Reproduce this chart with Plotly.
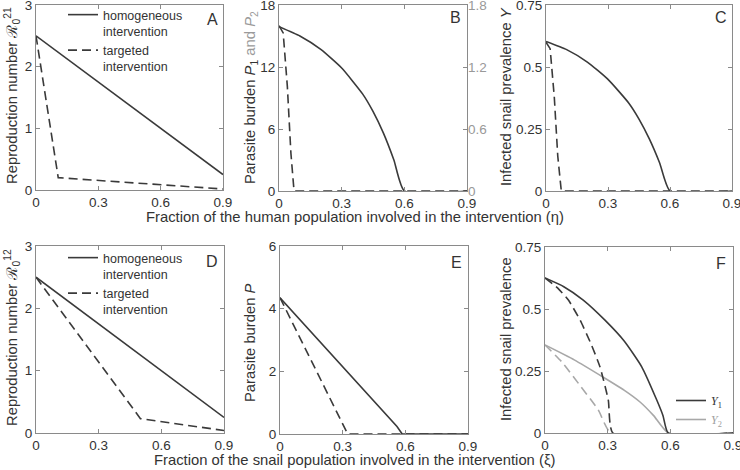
import plotly.graph_objects as go

W, H = 740, 470
def px(x): return x / W
def py(y): return 1 - y / H

# ---------------- data ----------------
# Panel A
etaA_hom = [0, 0.9]
RA_hom = [2.5, 0.25]
etaA_tar = [0, 0.107, 0.9]
RA_tar = [2.5, 0.2, 0.016]
# Panel B
etaB_hom = [0, 0.1, 0.2, 0.3, 0.4, 0.45, 0.5, 0.55, 0.6, 0.9]
PB_hom = [15.9, 15.0, 13.7, 11.9, 9.4, 7.7, 5.6, 3.0, 0, 0]
etaB_tar = [0, 0.02, 0.04, 0.057, 0.072, 0.9]
PB_tar = [16.0, 15.3, 10.1, 3.65, 0, 0]
# Panel C
etaC_hom = [0, 0.1, 0.2, 0.3, 0.4, 0.45, 0.5, 0.55, 0.6, 0.9]
YC_hom = [0.603, 0.57, 0.52, 0.45, 0.355, 0.29, 0.21, 0.113, 0, 0]
etaC_tar = [0, 0.02, 0.04, 0.057, 0.074, 0.9]
YC_tar = [0.6, 0.574, 0.38, 0.14, 0, 0]
# Panel D
xiD_hom = [0, 0.9]
RD_hom = [2.5, 0.25]
xiD_tar = [0, 0.5, 0.9]
RD_tar = [2.5, 0.23, 0.04]
# Panel E
xiE_hom = [0, 0.56, 0.585, 0.9]
PE_hom = [4.35, 0.24, 0, 0]
xiE_tar = [0, 0.324, 0.9]
PE_tar = [4.35, 0, 0]
# Panel F
xiF_Y1_hom = [0, 0.09, 0.183, 0.287, 0.38, 0.463, 0.535, 0.565, 0.59, 0.9]
YF_Y1_hom = [0.625, 0.59, 0.536, 0.455, 0.37, 0.267, 0.133, 0.07, 0, 0]
xiF_Y1_tar = [0, 0.06, 0.112, 0.168, 0.22, 0.263, 0.303, 0.325, 0.9]
YF_Y1_tar = [0.625, 0.585, 0.536, 0.455, 0.36, 0.267, 0.133, 0, 0]
xiF_Y2_hom = [0, 0.14, 0.279, 0.38, 0.455, 0.52, 0.59, 0.9]
YF_Y2_hom = [0.355, 0.295, 0.225, 0.172, 0.125, 0.07, 0, 0]
xiF_Y2_tar = [0, 0.08, 0.16, 0.255, 0.315, 0.9]
YF_Y2_tar = [0.355, 0.287, 0.2, 0.093, 0, 0]

x_ticks = [0, 0.3, 0.6, 0.9]
x_ticktext = ["0", "0.3", "0.6", "0.9"]
yA_ticks = [0, 1, 2, 3]
yB_ticks = [0, 6, 12, 18]
yB2_ticks = [0, 0.6, 1.2, 1.8]
yB2_ticktext = ["0", "0.6", "1.2", "1.8"]
yC_ticks = [0, 0.25, 0.5, 0.75]
yC_ticktext = ["0", "0.25", "0.5", "0.75"]
yE_ticks = [0, 2, 4, 6]

# ---------------- style ----------------
DARK = "#3a3a3a"
GREY = "#a8a8a8"
FRAME = "#8a8a8a"
TXT = "#333333"
FONT = "Liberation Sans, Arial, sans-serif"
DASH = "9px,5px"
LW = 1.6
TICKSIZE = 13.5
TITLESIZE = 14.8

fig = go.Figure()

def add(x, y, ax, color, dash, name=None, legend=None, show=False, shape="linear"):
    fig.add_trace(go.Scatter(
        x=x, y=y, xaxis="x" + ax[0], yaxis="y" + ax[1], mode="lines",
        line=dict(color=color, width=LW, dash=dash, shape=shape, smoothing=0.5),
        name=name, legend=legend, showlegend=show, hoverinfo="skip"))

# A
add(etaA_hom, RA_hom, ("", ""), DARK, "solid", "homogeneous<br>intervention", "legend", True)
add(etaA_tar, RA_tar, ("", ""), DARK, DASH, "targeted<br>intervention", "legend", True)
# B
add(etaB_hom, PB_hom, ("2", "2"), DARK, "solid", shape="spline")
add(etaB_tar, PB_tar, ("2", "2"), DARK, DASH)
fig.add_trace(go.Scatter(x=[None], y=[None], xaxis="x2", yaxis="y7", showlegend=False, hoverinfo="skip"))
# C
add(etaC_hom, YC_hom, ("3", "3"), DARK, "solid", shape="spline")
add(etaC_tar, YC_tar, ("3", "3"), DARK, DASH)
# D
add(xiD_hom, RD_hom, ("4", "4"), DARK, "solid", "homogeneous<br>intervention", "legend2", True)
add(xiD_tar, RD_tar, ("4", "4"), DARK, DASH, "targeted<br>intervention", "legend2", True)
# E
add(xiE_hom, PE_hom, ("5", "5"), DARK, "solid")
add(xiE_tar, PE_tar, ("5", "5"), DARK, DASH)
# F
add(xiF_Y2_tar, YF_Y2_tar, ("6", "6"), GREY, DASH, shape="spline")
add(xiF_Y2_hom, YF_Y2_hom, ("6", "6"), GREY, "solid", shape="spline")
add(xiF_Y1_tar, YF_Y1_tar, ("6", "6"), DARK, DASH, shape="spline")
add(xiF_Y1_hom, YF_Y1_hom, ("6", "6"), DARK, "solid", shape="spline")
# legend entries for F (order Y1, Y2)
fig.add_trace(go.Scatter(x=[None], y=[None], xaxis="x6", yaxis="y6", mode="lines",
                         line=dict(color=DARK, width=LW), name="<i>Y</i><sub>1</sub>",
                         legend="legend3", showlegend=True))
fig.add_trace(go.Scatter(x=[None], y=[None], xaxis="x6", yaxis="y6", mode="lines",
                         line=dict(color=GREY, width=LW),
                         name="<span style='color:#a0a0a0'><i>Y</i><sub>2</sub></span>",
                         legend="legend3", showlegend=True))

def xax(dom, anchor):
    return dict(domain=[px(dom[0]), px(dom[1])], anchor=anchor, range=[0, 0.9],
                tickvals=x_ticks, ticktext=x_ticktext, showline=True, linecolor=FRAME,
                linewidth=1, mirror="ticks", ticks="inside", ticklen=4, tickcolor=FRAME,
                showgrid=False, zeroline=False, automargin=False, ticklabeloverflow="allow",
                tickfont=dict(size=TICKSIZE, color=TXT, family=FONT), fixedrange=True)

def yax(dom, anchor, rng, vals, text=None, mirror="ticks"):
    d = dict(domain=[py(dom[1]), py(dom[0])], anchor=anchor, range=rng, tickvals=vals,
             showline=True, linecolor=FRAME, linewidth=1, mirror=mirror, ticks="inside",
             ticklen=4, tickcolor=FRAME, showgrid=False, zeroline=False, automargin=False,
             ticklabeloverflow="allow",
             tickfont=dict(size=TICKSIZE, color=TXT, family=FONT), fixedrange=True)
    if text:
        d["ticktext"] = text
    return d

# pixel boxes (left, right), (top, bottom)
A = ((36, 223), (5, 190))
B = ((279, 467), (5, 191))
C = ((546, 732), (5, 191))
D = ((36, 224), (246, 433))
E = ((280, 468), (246, 434))
F = ((545, 733), (247, 433))

leg_font = dict(size=12.5, color=TXT, family=FONT)
layout = dict(
    width=W, height=H, margin=dict(l=0, r=0, t=0, b=0, autoexpand=False),
    paper_bgcolor="white", plot_bgcolor="white",
    font=dict(family=FONT, color=TXT),
    xaxis=xax(A[0], "y"), yaxis=yax(A[1], "x", [0, 3], yA_ticks),
    xaxis2=xax(B[0], "y2"), yaxis2=yax(B[1], "x2", [0, 18], yB_ticks, mirror=True),
    xaxis3=xax(C[0], "y3"), yaxis3=yax(C[1], "x3", [0, 0.75], yC_ticks, yC_ticktext),
    xaxis4=xax(D[0], "y4"), yaxis4=yax(D[1], "x4", [0, 3], yA_ticks),
    xaxis5=xax(E[0], "y5"), yaxis5=yax(E[1], "x5", [0, 6], yE_ticks),
    xaxis6=xax(F[0], "y6"), yaxis6=yax(F[1], "x6", [0, 0.75], yC_ticks, yC_ticktext),
    yaxis7=dict(overlaying="y2", side="right", anchor="x2", range=[0, 1.8],
                tickvals=yB2_ticks, ticktext=yB2_ticktext, automargin=False,
                showline=False, ticks="inside", ticklen=4, tickcolor=FRAME,
                showgrid=False, zeroline=False, ticklabeloverflow="allow",
                tickfont=dict(size=TICKSIZE, color="#999999", family=FONT), fixedrange=True),
    legend=dict(x=px(63), y=py(0), xanchor="left", yanchor="top", bgcolor="rgba(0,0,0,0)",
                font=leg_font, valign="top", tracegroupgap=0, itemclick=False),
    legend2=dict(x=px(63), y=py(243), xanchor="left", yanchor="top", bgcolor="rgba(0,0,0,0)",
                 font=leg_font, valign="top", tracegroupgap=0, itemclick=False),
    legend3=dict(x=px(671), y=py(386), xanchor="left", yanchor="top", bgcolor="rgba(0,0,0,0)",
                 font=dict(size=12, color=TXT, family="Liberation Serif, Times New Roman, serif"),
                 tracegroupgap=0, itemclick=False),
    showlegend=True,
)
fig.update_layout(**layout)

ann = []
def text(x, y, s, size=TITLESIZE, angle=0, color=TXT, xanchor="center"):
    ann.append(dict(x=px(x), y=py(y), xref="paper", yref="paper", text=s, showarrow=False,
                    textangle=angle, xanchor=xanchor, yanchor="middle",
                    font=dict(size=size, color=color, family=FONT)))

# panel letters
for lab, (x, y) in zip("ABCDEF", [(212, 19), (455, 18), (721, 18), (212, 261), (456, 262), (721, 263)]):
    text(x, y, lab, size=16)

# y titles
text(0, 96, "Reproduction number ℛ<sub>0</sub><sup>21</sup>", angle=-90, xanchor="left")
text(251, 97, "Parasite burden <i>P</i><sub>1</sub> <span style='color:#9a9a9a'>and <i>P</i><sub>2</sub></span>", angle=-90)
text(506, 97, "Infected snail prevalence <i>Y</i>", angle=-90)
text(0, 338, "Reproduction number ℛ<sub>0</sub><sup>12</sup>", angle=-90, xanchor="left")
text(250, 343, "Parasite burden <i>P</i>", angle=-90)
text(506, 339, "Infected snail prevalence", angle=-90)

# x titles
text(355, 217, "Fraction of the human population involved in the intervention (η)")
text(355, 460, "Fraction of the snail population involved in the intervention (ξ)")

fig.update_layout(annotations=ann)
fig.write_html("out.html", config={"displayModeBar": False},
               post_script="document.body.style.margin='0px';")
